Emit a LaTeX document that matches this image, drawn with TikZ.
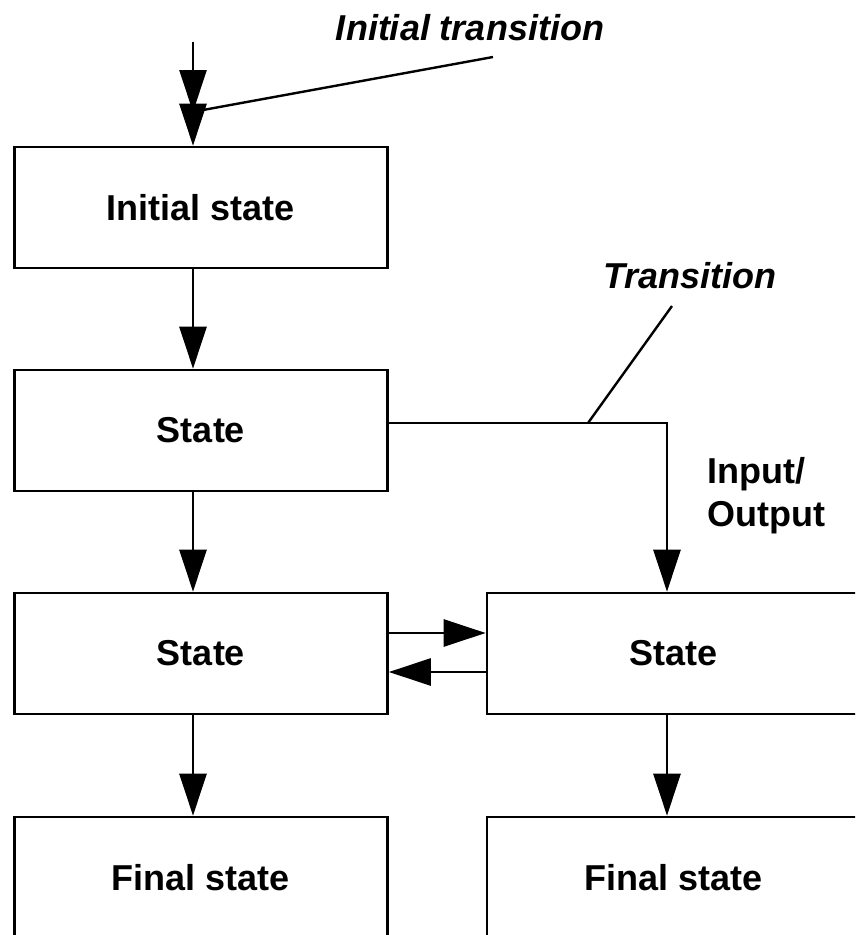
\documentclass[tikz,border=0pt]{standalone}
\usepackage{fontspec}
\setmainfont{Liberation Sans}
\usetikzlibrary{arrows.meta}
\begin{document}
\begin{tikzpicture}[x=1pt,y=-1pt,
  box/.style={draw,line width=2.6pt,minimum width=373pt,minimum height=121pt,inner sep=0pt,
    font=\fontsize{36}{43}\selectfont\bfseries},
  arr/.style={line width=2.6pt,-{Triangle[length=42pt,width=27pt]}},
  lead/.style={line width=2.4pt},
  lbl/.style={inner sep=0pt,font=\fontsize{36}{43}\selectfont\bfseries}]
\useasboundingbox (0,0) rectangle (855,935);
\clip (0,0) rectangle (855,935);
\node[box] (b1) at (201,207.5) {Initial state};
\node[box] (b2) at (201,430.5) {State};
\node[box] (b3) at (201,653.5) {State};
\node[box] (b4) at (673.5,653.5) {State};
\node[box] (b5) at (201,877.5) {Final state};
\node[box] (b6) at (673.5,877.5) {Final state};
% initial transition
\coordinate (top) at (193,42);
\coordinate (mid) at (193,112);
\draw[arr] (top) -- ([xshift=-8pt]b1.north);
\draw[arr] (top) -- (mid);
\coordinate (itA) at (203,110);
\coordinate (itB) at (493,57);
\draw[lead] (itA) -- (itB);
\node[lbl,font=\fontsize{36}{43}\selectfont\bfseries\itshape] (itl) at (470,28) {Initial transition};
% vertical arrows
\draw[arr] ([xshift=-8pt]b1.south) -- ([xshift=-8pt]b2.north);
\draw[arr] ([xshift=-8pt]b2.south) -- ([xshift=-8pt]b3.north);
\draw[arr] ([xshift=-8pt]b3.south) -- ([xshift=-8pt]b5.north);
\draw[arr] ([xshift=-6.5pt]b4.south) -- ([xshift=-6.5pt]b6.north);
% transition b2 -> b4
\draw[arr] ([yshift=7.5pt]b2.east) -| ([xshift=-6.5pt]b4.north);
\coordinate (trA) at (588,423);
\coordinate (trB) at (672,306);
\draw[lead] (trA) -- (trB);
\node[lbl,font=\fontsize{36}{43}\selectfont\bfseries\itshape] (trl) at (690,276) {Transition};
\node[lbl,align=left,anchor=west] (io) at (707,496) {Input/\\Output};
% horizontal arrows
\draw[arr] ([yshift=20.5pt]b3.east) -- ([yshift=20.5pt]b4.west);
\draw[arr] ([yshift=-18.5pt]b4.west) -- ([yshift=-18.5pt]b3.east);
\end{tikzpicture}
\end{document}
